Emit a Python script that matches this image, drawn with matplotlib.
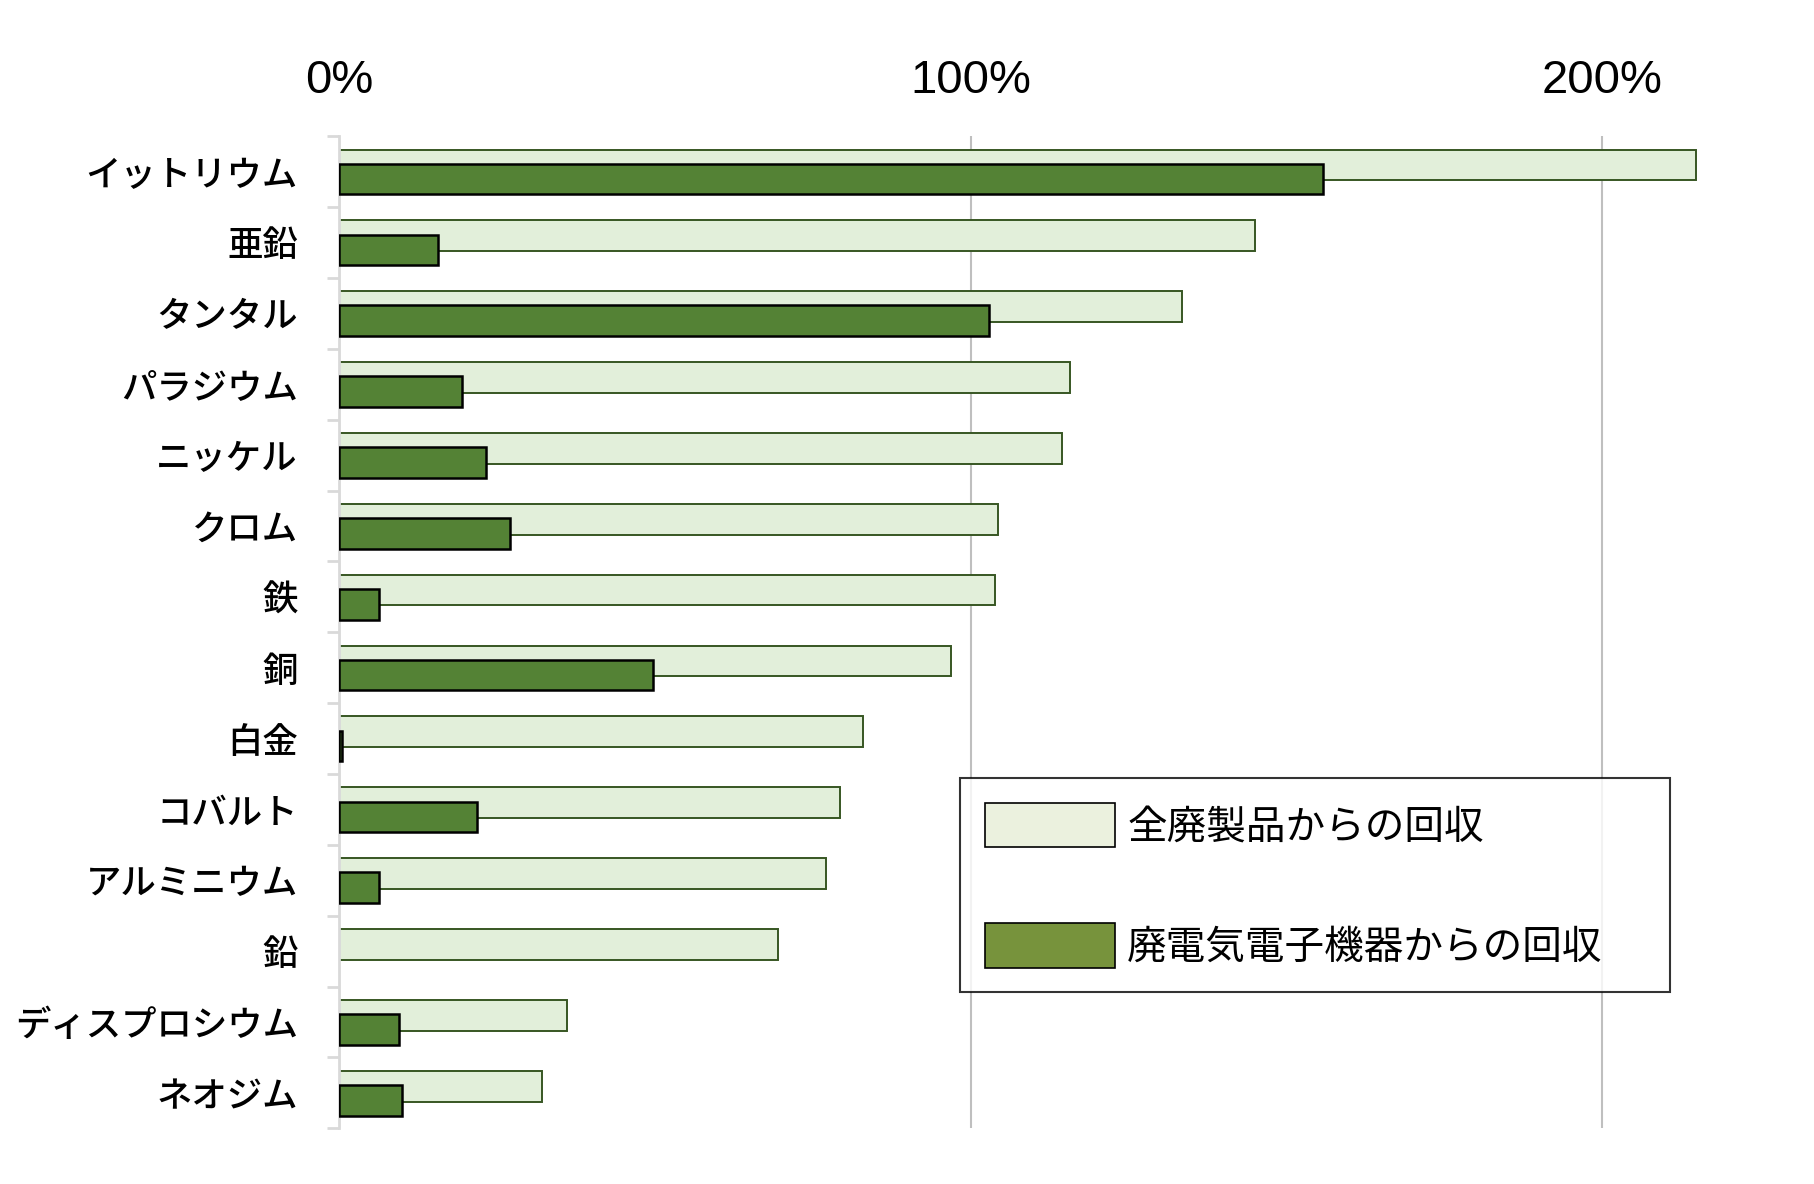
import numpy as np
import matplotlib
matplotlib.use("Agg")
import matplotlib.pyplot as plt
from matplotlib.patches import Patch

# data (share, 1.0 = 100%)
metals = ["イットリウム", "亜鉛", "タンタル", "パラジウム", "ニッケル", "クロム", "鉄",
          "銅", "白金", "コバルト", "アルミニウム", "鉛", "ディスプロシウム", "ネオジム"]
all_products = [2.15, 1.45, 1.335, 1.158, 1.145, 1.043, 1.039,
                0.969, 0.829, 0.793, 0.771, 0.695, 0.360, 0.321]
weee = [1.558, 0.156, 1.03, 0.195, 0.233, 0.270, 0.062,
        0.497, 0.004, 0.218, 0.062, 0.0, 0.095, 0.099]
legend_labels = ["全廃製品からの回収", "廃電気電子機器からの回収"]
xticks = [0, 1, 2]
xtick_labels = ["0%", "100%", "200%"]

plt.rcParams['font.family'] = ['Noto Sans CJK JP', 'DejaVu Sans']

fig = plt.figure(figsize=(18.15, 11.84), dpi=100)
ax = fig.add_axes([0.187, 0.047, 0.765, 0.838])

y = np.arange(len(metals))
ax.barh(y - 0.095, all_products, height=0.433, color="#E2EFDA",
        edgecolor="#375623", linewidth=1.4, zorder=2)
# no outline where there is no bar (lead)
lw = [1.8 if v > 0 else 0 for v in weee]
ax.barh(y + 0.105, weee, height=0.433, color="#548235",
        edgecolor="black", linewidth=lw, zorder=3)

ax.set_xlim(0, 2.2)
ax.set_ylim(len(metals) - 0.5, -0.5)

# x axis on top, no tick marks
ax.xaxis.set_ticks_position("top")
ax.set_xticks(xticks)
ax.set_xticklabels(xtick_labels, family=["Liberation Sans", "DejaVu Sans"], fontsize=34)
ax.tick_params(axis="x", length=0, pad=24)
ax.grid(axis="x", color="#BFBFBF", linewidth=1.5, zorder=0)

# category labels, ticks between categories
ax.set_yticks(y)
ax.set_yticklabels(metals, fontsize=25.5, fontweight="medium")
ax.set_yticks(np.arange(len(metals) + 1) - 0.5, minor=True)
ax.tick_params(axis="y", which="major", length=0, pad=30)
ax.tick_params(axis="y", which="minor", length=9, width=2, color="#D9D9D9")

for s in ["top", "right", "bottom"]:
    ax.spines[s].set_visible(False)
ax.spines["left"].set_color("#D9D9D9")
ax.spines["left"].set_linewidth(2)

handles = [Patch(facecolor="#EBF1DE", edgecolor="black", linewidth=1.2),
           Patch(facecolor="#77933C", edgecolor="black", linewidth=1.2)]
leg = fig.legend(handles, legend_labels, loc="lower left",
                 bbox_to_anchor=(0.529, 0.162, 0.391, 0.186), mode="expand",
                 fontsize=28.5, frameon=True, fancybox=False, handlelength=3.3,
                 handleheight=1.37, handletextpad=0.3, labelspacing=1.9,
                 borderpad=0.62, borderaxespad=0)
leg.get_frame().set_edgecolor("black")
leg.get_frame().set_linewidth(1.5)

fig.savefig("out.png", dpi=100)
